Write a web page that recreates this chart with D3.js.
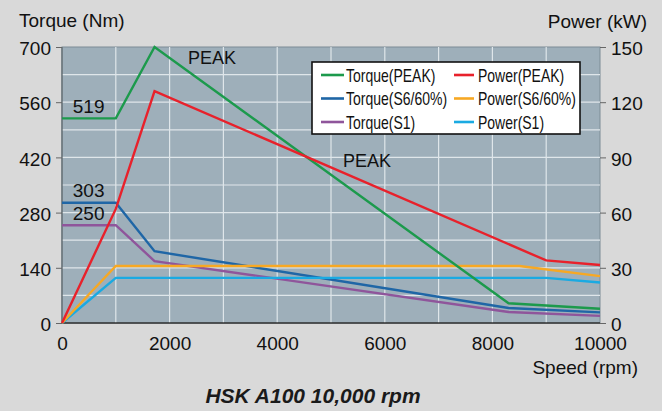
<!DOCTYPE html>
<html><head><meta charset="utf-8">
<script src="https://cdn.jsdelivr.net/npm/d3@7"></script>
<style>
html,body{margin:0;padding:0;background:#d9d9d9;}
svg{display:block;font-family:"Liberation Sans",Arial,sans-serif;}
</style></head><body>
<svg id="c" width="662" height="411"></svg>
<script>
// ---- data ----
const speedTicks = [0, 2000, 4000, 6000, 8000, 10000];
const torqueTicks = [0, 140, 280, 420, 560, 700];
const powerTicks = [0, 30, 60, 90, 120, 150];

const torquePeakRpm = [0, 1000, 1720, 8300, 10000];
const torquePeakNm  = [519, 519, 700, 50, 36];
const torqueS6Rpm   = [0, 1000, 1720, 8300, 10000];
const torqueS6Nm    = [305, 305, 182, 38, 27];
const torqueS1Rpm   = [0, 1000, 1720, 8300, 10000];
const torqueS1Nm    = [248, 248, 157, 28, 18];

const powerPeakRpm = [0, 1000, 1720, 9000, 10000];
const powerPeakKw  = [0, 62, 126, 34, 31.5];
const powerS6Rpm   = [0, 1000, 8500, 10000];
const powerS6Kw    = [0, 31, 31, 25.5];
const powerS1Rpm   = [0, 1000, 9000, 10000];
const powerS1Kw    = [0, 24.5, 24.5, 22];

const legendLabels = ["Torque(PEAK)", "Torque(S6/60%)", "Torque(S1)", "Power(PEAK)", "Power(S6/60%)", "Power(S1)"];
const annotations = [{t:"519", rpm:200, v:519}, {t:"303", rpm:200, v:305}, {t:"250", rpm:200, v:248}];

// ---- layout ----
const svg = d3.select("#c");
const L = 62, R = 600, T = 47, B = 323;
const x = d3.scaleLinear().domain([0, 10000]).range([L, R]);
const yT = d3.scaleLinear().domain([0, 700]).range([B, T]);
const yP = d3.scaleLinear().domain([0, 150]).range([B, T]);

svg.append("rect").attr("width", 662).attr("height", 411).attr("fill", "#d9d9d9");
svg.append("rect").attr("x", L).attr("y", T).attr("width", R - L).attr("height", B - T)
  .attr("fill", "#9eafba").attr("stroke", "#7d8c96").attr("stroke-width", 1);

// grid
const g = svg.append("g");
g.selectAll(".vg").data(d3.range(1000, 10000, 1000)).join("line")
  .attr("x1", d => x(d)).attr("x2", d => x(d)).attr("y1", T).attr("y2", B)
  .attr("stroke", "#dfe6ea").attr("stroke-width", 1.2);
g.selectAll(".hg").data(d3.range(70, 700, 70)).join("line")
  .attr("x1", L).attr("x2", R).attr("y1", d => yT(d)).attr("y2", d => yT(d))
  .attr("stroke", "#dfe6ea").attr("stroke-width", 1.2);

// axes lines
svg.append("line").attr("x1", L).attr("x2", L).attr("y1", T).attr("y2", B).attr("stroke", "#6a747a").attr("stroke-width", 1.5);
svg.append("line").attr("x1", L).attr("x2", R).attr("y1", B).attr("y2", B).attr("stroke", "#333").attr("stroke-width", 1.5);

// left axis
const la = svg.append("g").attr("transform", `translate(${L},0)`)
  .call(d3.axisLeft(yT).tickValues(torqueTicks).tickSize(6).tickPadding(5));
la.select(".domain").remove();
la.selectAll("line").attr("stroke", "#666");
la.selectAll("text").attr("font-size", 19).attr("font-family", "Liberation Sans, Arial, sans-serif").attr("fill", "#111").attr("dy", "0.4em");

// right axis
const ra = svg.append("g").attr("transform", `translate(${R},0)`)
  .call(d3.axisRight(yP).tickValues(powerTicks).tickSize(6).tickPadding(5));
ra.select(".domain").remove();
ra.selectAll("line").attr("stroke", "#666");
ra.selectAll("text").attr("font-size", 19).attr("font-family", "Liberation Sans, Arial, sans-serif").attr("fill", "#111").attr("dy", "0.4em");

// bottom axis
const ba = svg.append("g").attr("transform", `translate(0,${B})`)
  .call(d3.axisBottom(x).tickValues(speedTicks).tickFormat(d3.format("d")).tickSize(0).tickPadding(14));
ba.select(".domain").remove();
ba.selectAll("text").attr("font-size", 19).attr("font-family", "Liberation Sans, Arial, sans-serif").attr("fill", "#111");

// titles
svg.append("text").attr("x", 19).attr("y", 27).attr("font-size", 19).attr("fill", "#111").text("Torque (Nm)");
svg.append("text").attr("x", 647).attr("y", 28).attr("text-anchor", "end").attr("font-size", 19).attr("fill", "#111").text("Power (kW)");
svg.append("text").attr("x", 638).attr("y", 374).attr("text-anchor", "end").attr("font-size", 19).attr("fill", "#111").text("Speed (rpm)");
svg.append("text").attr("x", 313).attr("y", 403).attr("text-anchor", "middle").attr("font-size", 21)
  .attr("font-weight", "bold").attr("font-style", "italic").attr("fill", "#1a1a1a").text("HSK A100 10,000 rpm");

// series
const series = [
  {rpm: torqueS1Rpm, v: torqueS1Nm, y: yT, c: "#8f559b"},
  {rpm: torqueS6Rpm, v: torqueS6Nm, y: yT, c: "#1f66a6"},
  {rpm: powerS1Rpm, v: powerS1Kw, y: yP, c: "#1aaae2"},
  {rpm: powerS6Rpm, v: powerS6Kw, y: yP, c: "#f7a823"},
  {rpm: torquePeakRpm, v: torquePeakNm, y: yT, c: "#1c9a4c"},
  {rpm: powerPeakRpm, v: powerPeakKw, y: yP, c: "#e8212b"}
];
series.forEach(s => {
  const line = d3.line().x((d, i) => x(s.rpm[i])).y(d => s.y(d));
  svg.append("path").datum(s.v).attr("d", line).attr("fill", "none")
    .attr("stroke", s.c).attr("stroke-width", 2.4).attr("stroke-linejoin", "miter");
});

// annotations
annotations.forEach(a => {
  svg.append("text").attr("x", x(a.rpm)).attr("y", yT(a.v) - 5.5).attr("font-size", 19).attr("fill", "#111").text(a.t);
});
svg.append("text").attr("x", 188).attr("y", 64).attr("font-size", 18).attr("fill", "#111").text("PEAK");
svg.append("text").attr("x", 343).attr("y", 167).attr("font-size", 18).attr("fill", "#111").text("PEAK");

// legend
const lg = svg.append("g");
lg.append("rect").attr("x", 312).attr("y", 62).attr("width", 268).attr("height", 72)
  .attr("fill", "#fff").attr("stroke", "#111").attr("stroke-width", 1.6);
const legColors = ["#1c9a4c", "#1f66a6", "#8f559b", "#e8212b", "#f7a823", "#1aaae2"];
legendLabels.forEach((t, i) => {
  const col = Math.floor(i / 3), row = i % 3;
  const ly = 75 + row * 23.5;
  const lx0 = col === 0 ? 321 : 454;
  const lx1 = col === 0 ? 344 : 474;
  const tx = col === 0 ? 346 : 478;
  lg.append("line").attr("x1", lx0).attr("x2", lx1).attr("y1", ly).attr("y2", ly)
    .attr("stroke", legColors[i]).attr("stroke-width", 2.6);
  lg.append("text").attr("transform", `translate(${tx},${ly + 6.5}) scale(0.8,1)`).attr("font-size", 17.5)
    .attr("fill", "#111").text(t);
});
</script>
</body></html>
